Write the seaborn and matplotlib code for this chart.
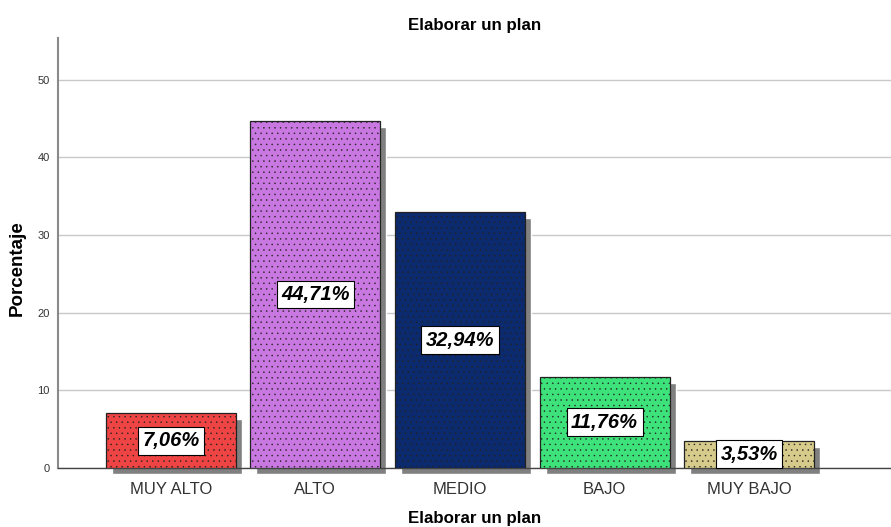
import matplotlib
matplotlib.use('Agg')
import matplotlib.pyplot as plt
import matplotlib.transforms as mtransforms
import seaborn as sns
import pandas as pd

# chart data
categories = ['MUY ALTO', 'ALTO', 'MEDIO', 'BAJO', 'MUY BAJO']
percentages = [7.06, 44.71, 32.94, 11.76, 3.53]
labels = ['7,06%', '44,71%', '32,94%', '11,76%', '3,53%']
colors = ['#EE4444', '#C878E0', '#0C2A6E', '#3EE27A', '#D6CB8B']

sns.set_theme(style='white')
plt.rcParams['font.family'] = ['Liberation Sans', 'DejaVu Sans']
plt.rcParams['hatch.linewidth'] = 0.3

df = pd.DataFrame({'cat': categories, 'pct': percentages})

fig = plt.figure(figsize=(8.91, 5.27), dpi=100)
ax = fig.add_axes([0.065, 0.112, 0.935, 0.816])

sns.barplot(data=df, x='cat', y='pct', hue='cat', palette=colors,
            width=0.9, saturation=1, legend=False, ax=ax, zorder=3)

for bar in ax.patches:
    bar.set_edgecolor('#222222')
    bar.set_linewidth(0.9)
    bar.set_hatch('...')

# drop shadow: same bars shifted 6px right / 6px down
shift = ax.transData + mtransforms.ScaledTranslation(0.06, -0.06, fig.dpi_scale_trans)
ax.bar(range(len(categories)), percentages, width=0.9, color='#808080',
       transform=shift, zorder=2.5, clip_on=False)

# value labels in white boxes
for i, (v, lab) in enumerate(zip(percentages, labels)):
    ax.text(i, v / 2, lab, ha='center', va='center', fontsize=14.5, color='black',
            fontweight='bold', fontstyle='italic', zorder=5,
            bbox=dict(boxstyle='square,pad=0.22', facecolor='white', edgecolor='black', linewidth=0.8))

ax.set_ylim(0, 55.4)
ax.set_xlim(-0.78, 4.98)
ax.set_yticks([0, 10, 20, 30, 40, 50])
ax.yaxis.grid(True, color='#c8c8c8', linewidth=1, zorder=0)
ax.set_axisbelow(True)
for s in ['top', 'right']:
    ax.spines[s].set_visible(False)
ax.spines['left'].set_color('#8a8a8a')
ax.spines['left'].set_linewidth(1.5)
ax.spines['bottom'].set_color('#444444')
ax.spines['bottom'].set_linewidth(1)
ax.tick_params(axis='y', labelsize=8, colors='#333333', length=0, pad=6)
ax.tick_params(axis='x', labelsize=12, colors='#333333', length=0, pad=10)

ax.set_title('Elaborar un plan', fontsize=12.2, fontweight='bold', color='black', pad=6)
ax.set_xlabel('Elaborar un plan', fontsize=12.2, fontweight='bold', color='black', labelpad=10)
ax.set_ylabel('Porcentaje', fontsize=13.5, fontweight='bold', color='black')
ax.yaxis.set_label_coords(-0.039, 0.465)

fig.savefig('out.png', dpi=100)
